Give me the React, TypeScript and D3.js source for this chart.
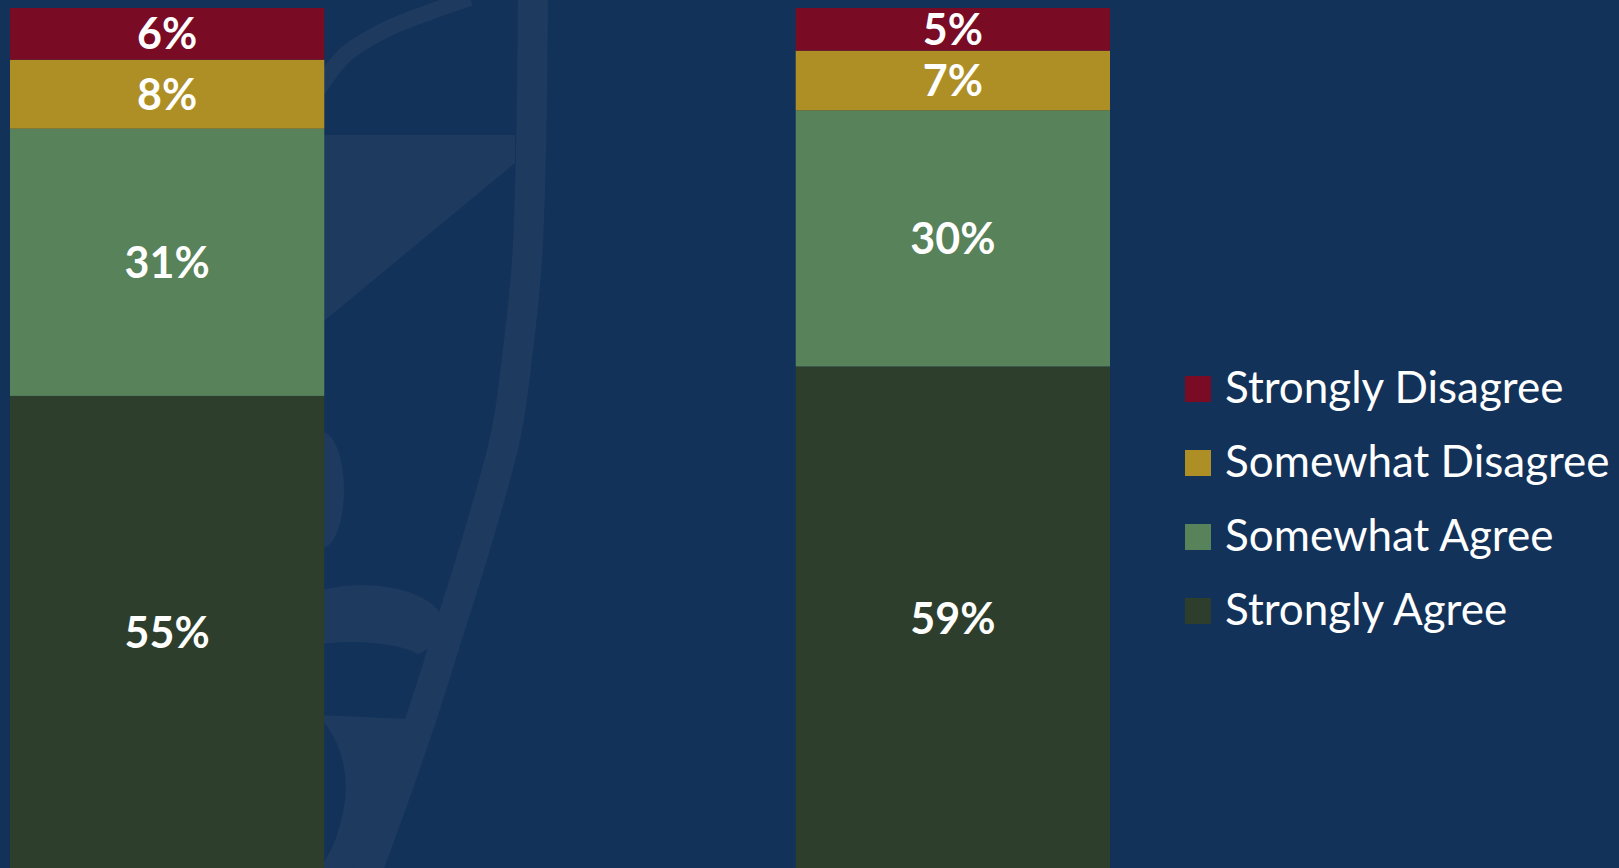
import React from "react";
import * as d3 from "d3";

// ---- data ----
const groups = ["Group A", "Group B"];
const seriesNames = ["Strongly Agree", "Somewhat Agree", "Somewhat Disagree", "Strongly Disagree"];
const stronglyAgree = [55, 59];
const somewhatAgree = [31, 30];
const somewhatDisagree = [8, 7];
const stronglyDisagree = [6, 5];
const legendOrder = ["Strongly Disagree", "Somewhat Disagree", "Somewhat Agree", "Strongly Agree"];

const colors: Record<string, string> = {
  "Strongly Agree": "#2D3F2C",
  "Somewhat Agree": "#588259",
  "Somewhat Disagree": "#AD8F26",
  "Strongly Disagree": "#7A0B24",
};

const W = 1619;
const H = 868;
const BG = "#12325A";
const WM = "#1E3A5F";
const plotTop = 8;
const plotBottom = 870;

export default function App() {
  const rows = groups.map((g, i) => ({
    group: g,
    "Strongly Agree": stronglyAgree[i],
    "Somewhat Agree": somewhatAgree[i],
    "Somewhat Disagree": somewhatDisagree[i],
    "Strongly Disagree": stronglyDisagree[i],
  }));
  // 100% stacked columns
  const stacked = d3.stack<any>().keys(seriesNames).offset(d3.stackOffsetExpand)(rows);

  const x = d3.scaleBand<string>().domain(groups).range([10, 1110]).paddingInner(0.6).paddingOuter(0);
  const y = d3.scaleLinear().domain([0, 1]).range([plotBottom, plotTop]);

  const font = "Lato, 'Open Sans', sans-serif";

  const arcPts: [number, number][] = [
    [533, -10], [531, 150], [527, 260], [518, 350], [506, 434], [479, 534], [448, 634], [416, 734], [368, 868], [355, 900],
  ];
  const arcPath = d3.line().curve(d3.curveCatmullRom)(arcPts) || "";
  const leafPath = d3.line().curve(d3.curveCatmullRom)([
    [318, 90], [345, 55], [385, 30], [430, 12], [470, -2],
  ]) || "";

  return (
    <svg width={W} height={H} style={{ position: "absolute", left: 0, top: 0, display: "block" }}>
      <rect x={0} y={0} width={W} height={H} fill={BG} />
      {/* faint watermark seal */}
      <g fill={WM}>
        <path d="M318,135 L515,135 L515,163 L318,326 Z" />
        <ellipse cx={362} cy={625} rx={82} ry={40} />
        <ellipse cx={352} cy={664} rx={74} ry={22} fill={BG} />
        <path d="M318,715 Q350,750 345,800 Q340,840 320,868 L380,868 L430,720 Z" />
        <ellipse cx={322} cy={490} rx={22} ry={58} />
      </g>
      <g fill="none" stroke={WM}>
        <path d={arcPath} strokeWidth={30} />
        <path d={leafPath} strokeWidth={16} />
      </g>
      <clipPath id="plotClip">
        <rect x={0} y={plotTop} width={W} height={H - plotTop} />
      </clipPath>
      <g clipPath="url(#plotClip)">
        {stacked.map((s) =>
          s.map((d, i) => {
            const y0 = y(d[1]);
            const y1 = y(d[0]);
            return (
              <rect
                key={s.key + i}
                x={x(groups[i])}
                y={y0}
                width={x.bandwidth()}
                height={y1 - y0}
                fill={colors[s.key]}
              />
            );
          })
        )}
      </g>
      {stacked.map((s) =>
        s.map((d, i) => {
          const cy = (y(d[1]) + y(d[0])) / 2;
          return (
            <text
              key={"l" + s.key + i}
              x={(x(groups[i]) as number) + x.bandwidth() / 2}
              y={cy}
              dy="0.36em"
              textAnchor="middle"
              fill="#FFFFFF"
              fontFamily={font}
              fontWeight={700}
              fontSize={43}
            >
              {`${(d.data as any)[s.key]}%`}
            </text>
          );
        })
      )}
      <g>
        {legendOrder.map((name, i) => (
          <g key={name} transform={`translate(1185, ${376 + i * 74})`}>
            <rect x={0} y={0} width={26} height={26} fill={colors[name]} />
            <text x={40} y={27} fill="#FFFFFF" fontFamily={font} fontSize={44}>
              {name}
            </text>
          </g>
        ))}
      </g>
    </svg>
  );
}
